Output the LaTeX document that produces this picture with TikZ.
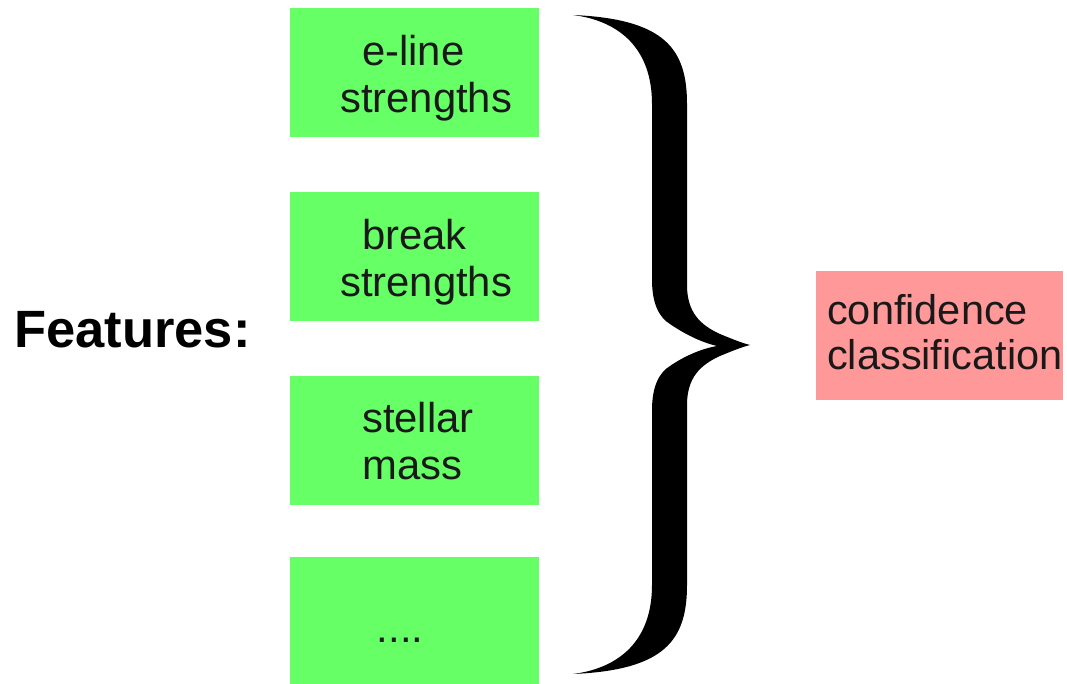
\documentclass[tikz,border=0pt]{standalone}
\usepackage{fontspec}
\setmainfont{Liberation Sans}
\definecolor{boxgreen}{HTML}{66FF66}
\definecolor{boxpink}{HTML}{FF9999}
\begin{document}
\begin{tikzpicture}[x=1pt,y=-1pt,
  gbox/.style={fill=boxgreen, draw=none, minimum width=249pt, minimum height=129pt, inner sep=0pt, outer sep=0pt},
  pbox/.style={fill=boxpink, draw=none, minimum width=247pt, minimum height=129pt, inner sep=0pt, outer sep=0pt},
  btext/.style={inner sep=0pt, align=left, anchor=west, font=\fontsize{41.8}{47}\selectfont, text=black!90},
  ptext/.style={inner sep=0pt, align=left, font=\fontsize{41.5}{45}\selectfont, text=black!90, anchor=west},
  ftext/.style={inner sep=0pt, anchor=base west, font=\fontsize{52.5}{60}\selectfont\bfseries}]
\useasboundingbox (0,0) rectangle (1067,684);
\node[gbox] (b1) at (414.5,72.5) {};
\node[gbox] (b2) at (414.5,256.5) {};
\node[gbox] (b3) at (414.5,440.5) {};
\node[gbox] (b4) at (414.5,621.5) {};
\node[pbox] (p) at (939.5,335.5) {};
\node[btext] (t1) at (340,77.9) {\hspace*{22pt}e-line\\strengths};
\node[btext] (t2) at (340,261.9) {\hspace*{22pt}break\\strengths};
\node[btext] (t3) at (362,441.5) {stellar\\mass};
\node[btext, anchor=base] (t4) at (400,642) {....};
\node[ptext] (pt) at (827,332.5) {confidence\\classification};
\node[ftext] (feat) at (14,347) {Features:};
% brace
\fill[black] (573,15) .. controls (665,19) and (687,49) .. (687,104)
  -- (687,285) .. controls (687,312) and (700,325) .. (720,334)
  .. controls (732,339) and (742,343) .. (750,345)
  .. controls (742,347) and (732,351) .. (720,356)
  .. controls (700,365) and (687,378) .. (687,405)
  -- (687,585) .. controls (687,640) and (665,670) .. (573,674)
  .. controls (620,668) and (652,640) .. (652,585)
  -- (652,410) .. controls (652,385) and (660,372) .. (670,366)
  .. controls (683,357) and (700,349) .. (717,346)
  .. controls (700,342) and (683,333) .. (670,324)
  .. controls (660,318) and (652,305) .. (652,280)
  -- (652,104) .. controls (652,49) and (620,21) .. (573,15) -- cycle;
\end{tikzpicture}
\end{document}
